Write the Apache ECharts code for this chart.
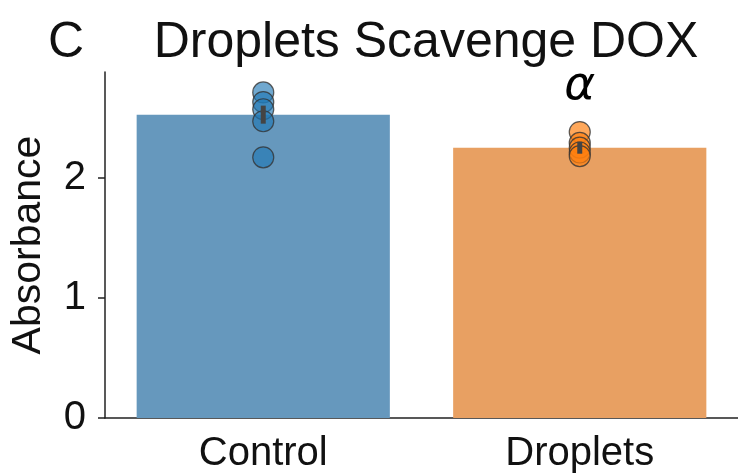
<!DOCTYPE html>
<html><head><meta charset="utf-8">
<script src="https://cdn.jsdelivr.net/npm/echarts@6/dist/echarts.min.js"></script>
<style>html,body{margin:0;padding:0;background:#fff}#c{width:738px;height:475px}</style>
</head><body><div id="c"></div>
<script>
const categories = ['Control', 'Droplets'];
const barMeans = [2.525, 2.25];
const barErrors = [0.075, 0.05];
const controlPoints = [2.71, 2.63, 2.57, 2.47, 2.17];
const dropletPoints = [2.38, 2.29, 2.25, 2.21, 2.18];
const yTicks = [0, 1, 2];
const yMax = 2.88;
const barColors = ['#6698bd', '#e8a062'];
const pointColors = ['rgba(31,119,180,0.8)', 'rgba(255,127,14,0.85)'];
const annotation = { category: 1, value: 2.755, text: 'α' };

const font = 'Liberation Sans, Arial, sans-serif';
const chart = echarts.init(document.getElementById('c'), null, {renderer: 'canvas'});

const scatterData = [];
controlPoints.forEach(v => scatterData.push({value: [0, v], itemStyle: {color: pointColors[0]}}));
dropletPoints.forEach(v => scatterData.push({value: [1, v], itemStyle: {color: pointColors[1]}}));

chart.setOption({
  animation: false,
  title: [
    {text: 'Droplets Scavenge DOX', left: 421, top: 13, textAlign: 'center',
     textStyle: {fontFamily: font, fontSize: 50, fontWeight: 'normal', color: '#111'}},
    {text: 'C', left: 43, top: 13,
     textStyle: {fontFamily: font, fontSize: 50, fontWeight: 'normal', color: '#111'}}
  ],
  grid: {left: 105, right: -4, top: 72, bottom: 57},
  xAxis: {
    type: 'category', data: categories, boundaryGap: true,
    axisLine: {lineStyle: {color: '#222', width: 1.5}},
    axisTick: {alignWithLabel: true, length: 7, lineStyle: {color: '#222', width: 1.5}},
    axisLabel: {fontFamily: font, fontSize: 40, color: '#111', margin: 16}
  },
  yAxis: {
    type: 'value', min: 0, max: yMax, interval: 1,
    name: 'Absorbance', nameLocation: 'middle', nameGap: 56,
    nameTextStyle: {fontFamily: font, fontSize: 41, color: '#111'},
    axisLine: {show: true, lineStyle: {color: '#222', width: 1.5}},
    axisTick: {show: true, length: 7, lineStyle: {color: '#222', width: 1.5},
      customValues: yTicks},
    axisLabel: {fontFamily: font, fontSize: 40, color: '#111', margin: 19,
      customValues: yTicks},
    splitLine: {show: false}
  },
  series: [
    {type: 'bar', barWidth: '80%',
     data: barMeans.map((v, i) => ({value: v, itemStyle: {color: barColors[i]}}))},
    {type: 'scatter', symbolSize: 21, data: scatterData,
     itemStyle: {borderColor: '#333', borderWidth: 1.2}, z: 3},
    {type: 'custom', z: 4,
     data: barMeans.map((m, i) => [i, m - barErrors[i], m + barErrors[i]]),
     renderItem: (params, api) => {
       const p1 = api.coord([api.value(0), api.value(1)]);
       const p2 = api.coord([api.value(0), api.value(2)]);
       return {type: 'line', shape: {x1: p1[0], y1: p1[1], x2: p2[0], y2: p2[1]},
         style: {stroke: '#444', lineWidth: 5}};
     }},
    {type: 'scatter', symbolSize: 0, z: 5, silent: true,
     data: [[annotation.category, annotation.value]],
     itemStyle: {opacity: 1},
     label: {show: true, position: 'inside', formatter: annotation.text,
       fontFamily: 'DejaVu Sans', fontSize: 47, fontStyle: 'italic', color: '#000',
       textBorderWidth: 0}}
  ]
});
</script></body></html>
